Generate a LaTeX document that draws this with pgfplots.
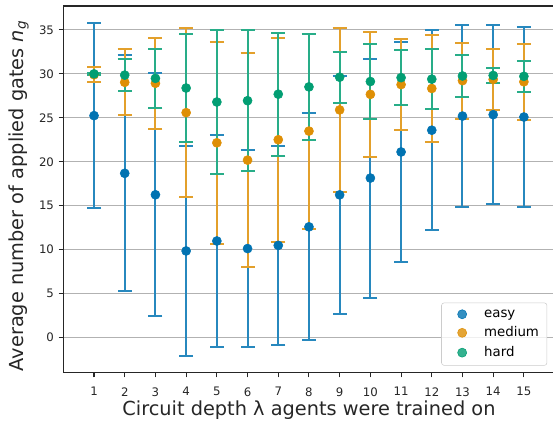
\documentclass[border=0pt]{standalone}
\usepackage{pgfplots}
\usepackage{pgfplotstable}
\pgfplotsset{compat=1.18}
\usepackage{fontspec}
\setmainfont{DejaVu Sans}
\definecolor{cbblue}{RGB}{1,115,178}
\definecolor{cborange}{RGB}{222,143,5}
\definecolor{cbgreen}{RGB}{2,158,115}
\definecolor{txt}{RGB}{38,38,38}
\pgfplotstableread{
x e ee m me h he
1 25.25 10.55 29.90 0.86 30.00 0.15
2 18.69 13.42 29.04 3.76 29.86 1.80
3 16.25 13.82 28.93 5.20 29.49 3.39
4 9.86 11.95 25.59 9.60 28.39 6.09
5 10.99 12.05 22.16 11.50 26.80 8.20
6 10.13 11.20 20.19 12.15 26.95 8.05
7 10.49 11.33 22.51 11.62 27.69 7.01
8 12.60 12.90 23.49 11.09 28.52 6.02
9 16.24 13.51 25.90 9.30 29.62 2.92
10 18.15 13.59 27.67 7.10 29.13 4.31
11 21.12 12.51 28.78 5.17 29.57 3.15
12 23.59 11.37 28.34 6.10 29.40 3.44
13 25.20 10.37 29.23 4.33 29.76 2.43
14 25.36 10.21 29.37 3.48 29.82 0.90
15 25.09 10.25 29.10 4.35 29.72 1.78
}\datatab
\begin{document}
\begin{tikzpicture}
\begin{axis}[
  name=ax,
  scale only axis, width=368.5pt, height=275pt,
  xmin=0, xmax=16, ymin=-3.98, ymax=37.72,
  xtick={1,...,15}, ytick={0,5,...,35},
  ymajorgrids, grid style={color=black!30, line width=0.7pt},
  tick align=outside, tick pos=left, major tick length=3.5pt,
  axis line style={txt, line width=0.9pt},
  tick style={txt, line width=0.8pt},
  ticklabel style={font=\fontsize{8.8}{10}\selectfont, color=txt},
  xticklabel style={yshift=-4pt},
  /pgf/number format/assume math mode=true,
  label style={font=\fontsize{14.5}{17}\selectfont, color=txt},
  xlabel={Circuit depth λ agents were trained on},
  ylabel={Average number of applied gates \textit{n}\textsubscript{\textit{g}}},
  xlabel style={at={(axis description cs:0.5,-0.1018)}, anchor=center},
  ylabel style={at={(axis description cs:-0.0912,0.482)}, anchor=center},
  legend image code/.code={%
    \path[draw=none, fill=none] (0pt,-4pt) rectangle (20pt,4pt);
    \path[#1] plot coordinates {(10pt,0pt)};},
  legend style={at={(0.985,0.019)}, anchor=south east, rounded corners=2pt,
    draw=black!20, fill=white, fill opacity=0.8, text opacity=1,
    font=\fontsize{10}{12}\selectfont, row sep=4.8pt, column sep=6pt,
    inner xsep=5.5pt, inner ysep=4.5pt, nodes={inner sep=0.5pt}},
  legend cell align=left,
]
\addplot+[only marks, mark=*, color=cbblue, mark size=3.4pt,
  mark options={fill=cbblue, draw=cbblue, solid},
  error bars/.cd, y dir=both, y explicit,
  error bar style={line width=1.5pt, color=cbblue!85!white},
  error mark options={rotate=90, mark size=5.25pt, line width=1.5pt, color=cbblue!85!white}]
  table[x=x, y=e, y error=ee] {\datatab};
\addlegendentry{easy}
\addplot+[only marks, mark=*, color=cborange, mark size=3.4pt,
  mark options={fill=cborange, draw=cborange, solid},
  error bars/.cd, y dir=both, y explicit,
  error bar style={line width=1.5pt, color=cborange!85!white},
  error mark options={rotate=90, mark size=5.25pt, line width=1.5pt, color=cborange!85!white}]
  table[x=x, y=m, y error=me] {\datatab};
\addlegendentry{medium}
\addplot+[only marks, mark=*, color=cbgreen, mark size=3.4pt,
  mark options={fill=cbgreen, draw=cbgreen, solid},
  error bars/.cd, y dir=both, y explicit,
  error bar style={line width=1.5pt, color=cbgreen!85!white},
  error mark options={rotate=90, mark size=5.25pt, line width=1.5pt, color=cbgreen!85!white}]
  table[x=x, y=h, y error=he] {\datatab};
\addlegendentry{hard}
\end{axis}
\pgfresetboundingbox
\path[use as bounding box] ([xshift=-47.5pt, yshift=-36.2pt]ax.south west) rectangle ([xshift=367.3pt, yshift=4.5pt]ax.north west);
\end{tikzpicture}
\end{document}
